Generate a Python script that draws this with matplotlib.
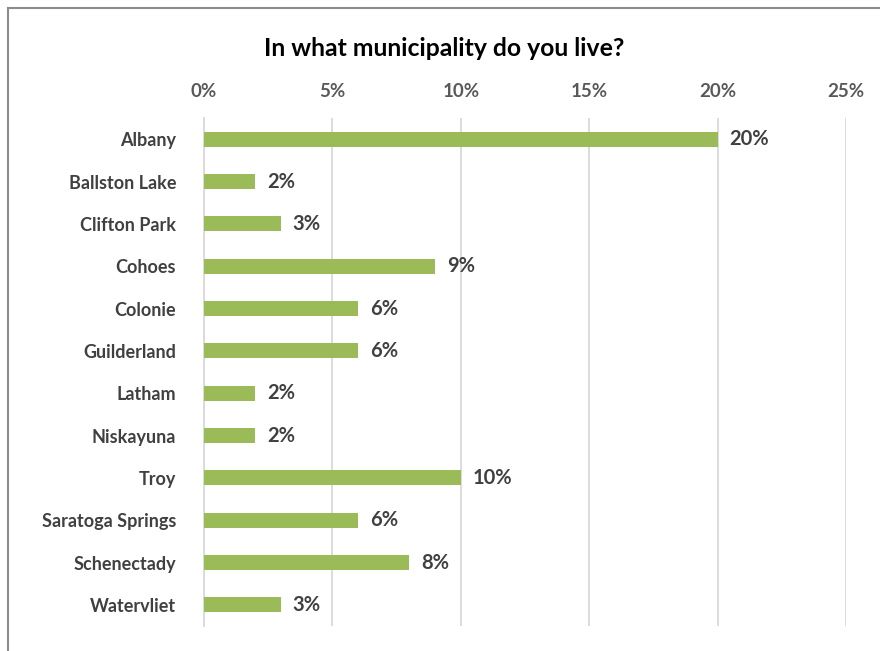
#!/usr/bin/env python3

# Horizontal bar chart of survey answers: which municipality respondents live in.

import matplotlib
matplotlib.use('agg')
import matplotlib.pyplot as plt
from matplotlib.lines import Line2D
from matplotlib.ticker import FuncFormatter

municipalities = ['Albany', 'Ballston Lake', 'Clifton Park', 'Cohoes', 'Colonie',
                  'Guilderland', 'Latham', 'Niskayuna', 'Troy', 'Saratoga Springs',
                  'Schenectady', 'Watervliet']
shares = [20, 2, 3, 9, 6, 6, 2, 2, 10, 6, 8, 3]
ticks = [0, 5, 10, 15, 20, 25]

BAR_GREEN = '#9BBB59'
TEXT_DARK = '#404040'
TEXT_TICK = '#595959'

plt.rcParams['font.family'] = ['Lato', 'DejaVu Sans']

fig = plt.figure(figsize=(8.8, 6.51), dpi=100)
ax = fig.add_axes([0.2318, 0.0384, 0.7296, 0.7803])

pos = list(range(len(municipalities)))
ax.barh(pos, shares, height=0.36, color=BAR_GREEN, zorder=3)
for y, v in zip(pos, shares):
    ax.text(v + 0.45, y, f'{v}%', va='center', ha='left', fontsize=14.5,
            fontweight='bold', color=TEXT_DARK)

ax.set_xlim(0, 25)
ax.set_ylim(len(municipalities) - 0.5, -0.5)
ax.set_xticks(ticks)
ax.xaxis.set_major_formatter(FuncFormatter(lambda x, _: f'{x:.0f}%'))
ax.xaxis.tick_top()
ax.tick_params(axis='x', length=0, pad=13, labelsize=13.5, labelcolor=TEXT_TICK)
ax.set_yticks(pos)
ax.set_yticklabels(municipalities)
ax.tick_params(axis='y', length=0, pad=20, labelsize=13, labelcolor=TEXT_DARK)
for lbl in ax.get_xticklabels() + ax.get_yticklabels():
    lbl.set_fontweight('bold')

ax.grid(axis='x', color='#D9D9D9', linewidth=1.3, zorder=0)
for side in ['top', 'right', 'bottom']:
    ax.spines[side].set_visible(False)
ax.spines['left'].set_color('#D9D9D9')
ax.spines['left'].set_linewidth(1.3)

fig.text(0.505, 1 - 48 / 651, 'In what municipality do you live?', ha='center',
         va='center', fontsize=17.8, fontweight='bold', color='black')

# chart frame: only top and left edges are visible in the crop
fig.add_artist(Line2D([8 / 880, 1.0], [1 - 8 / 651, 1 - 8 / 651],
                      transform=fig.transFigure, color='#8C8C8C', linewidth=1.5))
fig.add_artist(Line2D([8 / 880, 8 / 880], [0.0, 1 - 8 / 651],
                      transform=fig.transFigure, color='#8C8C8C', linewidth=1.5))

fig.savefig('out.png', dpi=100)
